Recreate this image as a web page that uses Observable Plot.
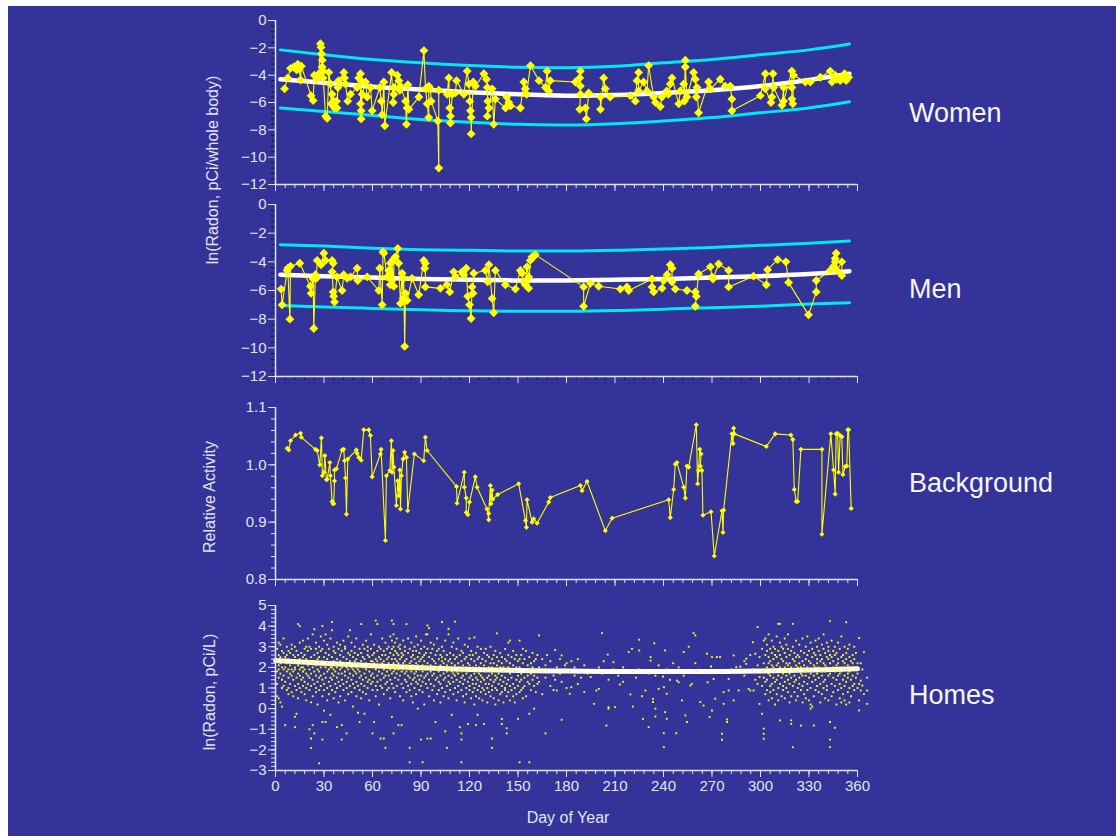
<!DOCTYPE html>
<html><head><meta charset="utf-8">
<script src="https://cdn.jsdelivr.net/npm/d3@7"></script>
<script src="https://cdn.jsdelivr.net/npm/@observablehq/plot@0.6"></script>
<style>
html,body{margin:0;padding:0;background:#fff;}
#page{position:relative;width:1116px;height:836px;background:#fff;overflow:hidden;font-family:"Liberation Sans",Arial,sans-serif;}
#bg{position:absolute;left:8px;top:6px;right:0;bottom:0;background:#333399;}
.panel{position:absolute;left:0;}
.lbl{position:absolute;color:#f6f6f6;font-size:27px;line-height:1;white-space:nowrap;}
.title{position:absolute;color:#e4e4f0;font-size:16px;line-height:1;white-space:nowrap;transform:translate(-50%,-50%);}
.ytitle{position:absolute;color:#e4e4f0;font-size:16px;line-height:1;white-space:nowrap;transform:translate(-50%,-50%) rotate(-90deg);}
</style></head><body>
<div id="page"><div id="bg"></div></div>
<script>
// ---------------- data ----------------
const panelNames = ["Women", "Men", "Background", "Homes"];
const yTitles = ["ln(Radon, pCi/whole body)", "Relative Activity", "ln(Radon, pCi/L)"];
const xTitle = "Day of Year";
const xTicks = [0, 30, 60, 90, 120, 150, 180, 210, 240, 270, 300, 330, 360];

// women: [day, ln(radon)]
const women = [[5.6,-5.0],[7.6,-4.2],[9.3,-3.5],[11.3,-3.4],[13,-3.6],[13.8,-3.2],[14.6,-3.55],[15.5,-4.35],[16,-3.35],[22,-5.5],[23.3,-5.85],[24,-4.0],[25.4,-4.3],[26.8,-3.9],[27.8,-1.7],[28.2,-1.96],[28.5,-2.45],[28.9,-2.9],[28.9,-3.4],[29.5,-3.7],[29.5,-4.2],[31,-7.0],[32,-7.15],[33,-3.8],[34,-4.65],[34.4,-6.1],[35,-5.4],[36,-5.9],[36.5,-6.4],[37.7,-5.9],[38,-6.4],[38.6,-4.9],[39,-4.4],[42.3,-3.8],[42.7,-4.2],[43.3,-4.65],[44.7,-5.9],[46.4,-5.4],[50.5,-4.9],[51.5,-4.2],[52.6,-3.9],[52.6,-6.1],[53,-4.4],[53,-6.6],[53,-7.2],[53.6,-5.4],[55.7,-4.5],[56.7,-5.6],[58.8,-4.9],[59.8,-6.6],[64.5,-4.9],[65.4,-5.9],[66,-6.9],[67,-4.5],[67.6,-7.7],[71.8,-3.8],[72.8,-6.0],[73.2,-4.9],[73.2,-5.4],[75.3,-4.0],[76.3,-4.4],[76.9,-5.1],[77.3,-4.8],[80.4,-5.9],[81,-7.6],[81.4,-6.4],[81.9,-4.7],[82.5,-6.5],[88.7,-5.6],[91.8,-2.2],[92.8,-5.0],[93.8,-6.1],[94.8,-7.1],[94.8,-4.8],[95.9,-5.0],[96.3,-5.9],[100.4,-7.35],[101,-10.8],[101,-5.1],[106.2,-5.4],[107.2,-4.2],[107.8,-6.4],[108.2,-7.0],[108.2,-7.5],[109.3,-5.4],[111.3,-5.3],[112,-4.4],[116.5,-5.4],[118.6,-3.7],[119.6,-4.65],[120.2,-5.9],[120.6,-6.6],[121,-7.1],[121,-8.3],[122.3,-4.5],[123.7,-4.8],[128.9,-3.9],[130.5,-4.3],[131,-4.9],[131.3,-5.9],[131,-7.0],[132,-6.4],[134,-5.0],[135,-7.6],[136,-5.75],[142.3,-6.4],[143,-5.6],[144.3,-6.0],[145.4,-6.25],[151.5,-6.4],[153.6,-4.5],[154.6,-5.0],[155.3,-5.4],[157.7,-3.3],[163,-4.4],[167,-4.9],[168,-3.7],[169,-5.15],[170,-4.4],[185.5,-4.5],[188.2,-4.2],[188.6,-3.7],[188.6,-4.8],[188.6,-5.4],[188.2,-6.5],[191.7,-6.4],[192.3,-7.2],[193.7,-5.3],[201,-5.6],[201,-6.5],[203,-4.2],[204,-5.0],[207,-5.6],[219.5,-5.5],[222.6,-5.9],[223.6,-4.4],[224.6,-3.8],[224.6,-5.15],[227.7,-4.5],[229.8,-5.15],[230.8,-3.3],[233.9,-5.6],[235,-6.0],[238,-6.3],[239,-5.6],[242,-5.15],[243,-5.4],[244.2,-4.65],[245.3,-4.2],[249.4,-6.1],[250.4,-5.15],[252.5,-4.65],[252.9,-5.9],[253.5,-2.9],[253.5,-3.4],[254.5,-5.6],[258.6,-3.8],[259.7,-4.3],[260.3,-5.6],[260.7,-4.9],[261.7,-6.75],[267.9,-4.5],[269,-5.0],[275.1,-4.3],[278.2,-4.8],[281.3,-4.8],[282.3,-5.75],[282.3,-6.6],[299.9,-5.5],[303,-3.9],[303,-5.0],[306.5,-6.0],[307.1,-5.6],[307.7,-3.9],[308.1,-4.9],[313.3,-6.2],[314.3,-4.9],[314.3,-5.9],[319.4,-3.7],[319.4,-4.9],[319.4,-5.75],[320,-6.1],[320.5,-4.0],[327.7,-4.5],[330.8,-4.5],[337,-4.15],[343.1,-3.7],[344.2,-4.5],[346.2,-4.0],[347,-4.3],[349.3,-4.4],[350.3,-4.15],[352,-3.9],[353,-4.4],[354.5,-4.15]];

// men: [day, ln(radon)]
const men = [[3.5,-5.9],[4.1,-7.0],[7.2,-4.6],[7.6,-4.45],[8.9,-8.0],[9.3,-4.3],[15,-4.1],[21.6,-5.7],[22,-6.2],[23.3,-5.2],[23.7,-8.65],[24.7,-4.9],[25.3,-5.15],[25.8,-3.9],[28.2,-4.2],[29.9,-3.4],[31,-3.9],[35,-3.9],[35.7,-4.1],[35,-4.7],[35.7,-6.1],[36,-6.4],[36.5,-6.8],[38,-5.05],[41.2,-6.0],[42.2,-4.9],[44.3,-5.15],[46.4,-5.05],[50.5,-4.45],[50.9,-5.3],[56.7,-5.05],[63.9,-6.0],[64.5,-4.45],[66,-7.0],[66.5,-3.3],[67,-3.4],[69,-5.05],[70,-4.6],[71,-5.6],[71,-4.1],[72,-5.3],[72,-4.0],[73.2,-5.7],[73.2,-3.8],[74.2,-3.65],[75.6,-3.07],[76.2,-4.1],[77.3,-6.9],[78.3,-4.8],[78.9,-6.55],[79.3,-5.15],[79.9,-9.9],[80.4,-6.2],[81.4,-6.7],[84.5,-5.15],[88.6,-6.3],[91.7,-3.9],[92.3,-4.45],[92.7,-4.1],[92.7,-5.75],[102,-5.85],[106,-5.6],[107.8,-6.1],[110.2,-4.7],[111.3,-5.05],[115.4,-4.7],[116.4,-4.9],[118,-4.45],[118.9,-6.4],[120,-7.0],[121,-7.95],[121.6,-5.75],[122.2,-6.2],[122.6,-4.8],[129.8,-4.6],[131.3,-5.4],[132,-4.2],[134,-6.55],[135,-7.55],[136,-4.6],[142.2,-5.6],[148.4,-5.9],[151.5,-4.6],[152.5,-4.8],[153.5,-5.4],[154.5,-5.6],[155.6,-4.35],[156.6,-5.05],[156.6,-5.85],[157.6,-3.9],[158.7,-3.65],[159.7,-3.65],[160.7,-3.5],[190.6,-5.75],[190.6,-7.1],[194.8,-5.5],[199.9,-5.7],[213.3,-5.9],[217.4,-5.75],[218.5,-6.0],[232.9,-5.2],[232.9,-5.75],[233.9,-6.1],[239.1,-5.85],[240.1,-5.3],[242.2,-4.9],[244.2,-4.2],[245.3,-4.45],[245.3,-5.4],[247.3,-5.9],[254.5,-6.0],[259.7,-6.1],[260.3,-6.4],[259.7,-7.1],[261.7,-4.85],[269,-4.35],[270,-5.05],[270.6,-5.2],[274.1,-4.15],[280.3,-4.6],[280.3,-5.75],[295.7,-5.0],[303.6,-5.6],[304.4,-4.55],[310.6,-3.85],[315.7,-4.0],[317.4,-5.45],[329.7,-7.7],[334.5,-6.1],[334.5,-5.3],[343.1,-4.6],[345.2,-4.3],[346.2,-4.0],[346.2,-3.77],[346.8,-3.4],[347.3,-4.6],[350.3,-4.0],[350.3,-4.95]];

// background: [day, relative activity]
const background = [[7.2,1.029],[8.2,1.026],[9.3,1.042],[12.4,1.052],[15.5,1.055],[16,1.048],[24.7,1.027],[25.8,1.025],[27.4,1.0],[28.4,1.047],[29,0.981],[30,0.987],[30.5,1.016],[31.5,0.974],[32,0.975],[33.6,1.004],[34,0.981],[35,0.936],[35.6,0.932],[36,0.932],[36.5,0.972],[36.5,0.991],[37.7,0.993],[41.2,1.026],[42.2,1.027],[42.7,1.007],[43.3,0.977],[43.9,0.914],[44.7,1.01],[50,1.026],[50.5,1.02],[51.5,1.013],[53,1.008],[54.6,1.061],[57.7,1.061],[58.7,1.051],[59.8,0.979],[64.9,1.019],[65.3,1.027],[68,0.868],[68.6,0.981],[70.7,0.99],[71.7,1.042],[72.1,0.987],[72.7,1.025],[73.2,0.996],[74.8,0.929],[75.6,0.972],[76.3,0.946],[76.9,0.991],[77.3,0.923],[77.9,0.981],[78.9,1.01],[79.9,1.022],[81,1.013],[81.8,0.92],[85.9,1.019],[91.7,1.007],[92.7,1.048],[93.8,1.025],[112,0.962],[112.3,0.933],[116.8,0.987],[116.8,0.961],[118,0.942],[118,0.917],[119,0.913],[120,0.935],[123.6,0.979],[124.7,0.961],[130.8,0.923],[131.9,0.904],[131.9,0.915],[132.9,0.964],[133.3,0.932],[134,0.956],[134.4,0.94],[137.4,0.948],[150.4,0.967],[154.6,0.903],[155.2,0.891],[155.6,0.939],[158.7,0.9],[159.7,0.906],[161.8,0.898],[169,0.935],[170,0.943],[188.6,0.964],[189.6,0.955],[192.7,0.971],[204,0.885],[208.2,0.907],[243.2,0.939],[244.2,0.908],[246.3,0.957],[247.3,1.001],[248.3,1.004],[252.5,0.961],[253.5,0.942],[254.5,0.998],[255.6,0.996],[260.3,1.07],[261.1,0.967],[261.7,0.99],[262.4,1.027],[263.2,1.019],[262.8,0.998],[263.8,0.99],[264.4,0.912],[269.4,0.918],[271.4,0.841],[276.2,0.92],[276.8,0.882],[277.2,0.921],[282.3,1.054],[283,1.037],[283.4,1.064],[283.8,1.054],[303.6,1.032],[309.1,1.054],[318.8,1.052],[320,1.044],[320.9,0.957],[322.1,0.936],[323,0.936],[325,1.027],[338,1.027],[338,0.879],[343.5,1.054],[345.2,0.991],[346.2,0.949],[346.8,1.054],[347.7,1.055],[348.3,0.987],[349.3,1.051],[350.3,1.049],[351,0.983],[352.4,0.997],[353.4,0.998],[354,1.061],[354.5,1.061],[356.1,0.924]];

// homes: [day, [ln(radon pCi/L) values measured that day]]
const homes = [[1,[2.4,1.8,2.9,1.2,0.6]],[2,[3.2,2.1,1.5,0.5,2.6,1.9]],[3,[2.2,0.3,1.7,3.1,2.5]],[4,[1.4,2.0,0.1,2.8,1.0]],[5,[3.4,2.3,1.6,2.7,1.1,1.9]],[6,[-0.8,2.0,1.3,2.5]],[7,[1.8,2.6,0.9,2.2,3.0]],[8,[0.7,2.4,1.5,1.9,2.8,1.0]],[9,[2.1,1.2,2.7,1.7]],[10,[2.9,1.6,0.8,2.3,1.9,3.1]],[11,[1.4,2.2,2.6,0.6,1.8]],[12,[-0.9,-0.4,1.9,2.5,1.1,3.0,2.0]],[13,[-0.25,2.3,1.5,0.9,2.8]],[14,[4.1,1.7,2.1,2.6,1.2,0.5]],[15,[4.0,2.4,1.9,3.2,1.0,1.6]],[16,[2.0,2.7,1.4,0.8,2.2]],[17,[1.8,3.3,2.5,1.1,2.0,1.5]],[18,[2.6,1.3,0.7,2.9,1.9]],[19,[1.7,2.4,3.0,1.0,2.2,0.4]],[20,[2.1,1.6,2.8,1.2,3.4]],[21,[3.0,1.9,0.9,2.3,-1.0,1.5]],[22,[-1.9,-1.45,2.5,1.7,1.1,2.9,0.3]],[23,[3.6,2.2,1.4,0.6,2.0,-0.8]],[24,[3.85,-1.2,1.8,2.6,1.2,2.3]],[25,[2.1,0.8,1.6,2.9,3.2,1.0]],[26,[1.3,2.4,0.2,1.9,2.7]],[27,[-2.65,2.2,1.5,0.9,3.0,1.8,2.5]],[28,[2.0,1.1,2.8,3.5,1.6]],[29,[4.0,-1.5,-0.65,2.3,1.4,0.6,2.9]],[30,[3.3,2.1,1.7,0.9,2.5,1.2,-0.1]],[31,[3.6,-0.65,2.0,1.5,2.7]],[32,[1.8,2.4,1.0,3.1,0.4,2.2]],[33,[2.6,1.3,1.9,2.9,0.7]],[34,[1.5,2.2,3.4,1.1,2.0,-0.3]],[35,[4.2,3.8,1.7,2.5,0.9,2.0,1.4]],[36,[2.3,1.6,2.8,0.5,1.9,3.0]],[37,[1.2,2.1,2.7,1.8,0.8]],[38,[-0.9,2.4,1.5,3.2,1.0,2.0]],[39,[2.9,1.7,0.3,2.2,1.3]],[40,[1.9,2.6,1.1,3.1,2.3,0.6]],[41,[-0.8,-1.5,2.0,1.4,2.8,1.7]],[42,[2.5,3.3,1.2,0.9,2.1]],[43,[1.6,2.2,2.9,0.4,1.8,3.0]],[44,[-1.2,2.4,1.3,2.0,1.0]],[45,[2.7,1.5,3.5,2.1,0.7,1.9]],[46,[3.8,2.3,1.1,1.7,2.6]],[47,[1.4,2.0,2.8,0.8,3.2]],[48,[2.2,1.6,0.1,2.5,1.9,1.2]],[49,[1.0,2.7,1.8,3.0,2.3]],[50,[2.4,1.3,0.6,2.0,3.4,1.7]],[51,[1.9,2.6,1.1,2.2,-0.2]],[52,[-0.65,2.1,1.5,2.9,0.9,1.8]],[53,[4.1,2.3,1.2,2.7,1.6,0.5]],[54,[2.0,3.1,1.4,0.8,2.5]],[55,[-0.25,1.7,2.4,2.9,1.1,2.0]],[56,[2.2,1.5,3.3,0.7,1.9]],[57,[1.3,2.6,2.0,1.0,2.8,3.0]],[58,[2.5,1.8,0.4,2.1,1.4]],[59,[1.6,2.3,2.9,1.2,3.6]],[60,[-1.2,2.0,1.7,2.6,0.9,2.3,1.3]],[61,[-0.65,2.7,1.5,2.2,3.1]],[62,[4.27,1.9,2.4,1.1,0.6,2.0]],[63,[4.1,2.8,1.6,2.3,1.3,0.9]],[64,[2.1,3.0,1.8,0.2,2.5]],[65,[-1.45,2.4,1.4,2.0,2.9,1.1]],[66,[1.7,2.6,3.4,1.0,2.2]],[67,[-1.45,2.3,1.5,0.7,2.8,1.9]],[68,[-1.9,2.0,2.6,1.2,3.2,1.6]],[69,[1.8,2.4,0.9,2.9,1.3]],[70,[2.2,3.0,1.6,2.5,1.0,2.0]],[71,[2.7,1.4,3.5,2.1,0.5,1.9]],[72,[4.27,-0.4,3.3,2.4,1.7,2.0,2.9,1.2]],[73,[4.1,-1.2,3.0,2.6,1.8,2.2,1.0,3.6]],[74,[2.8,2.0,1.5,3.2,0.8,2.4,1.9]],[75,[3.4,2.3,1.7,2.7,1.1,2.0]],[76,[-0.8,2.6,1.9,3.0,1.4,2.2]],[77,[2.1,1.6,2.9,0.6,2.4,3.1]],[78,[-0.8,2.5,1.8,1.2,2.7]],[79,[1.9,3.3,2.2,1.0,2.6,0.4]],[80,[2.0,1.4,2.8,1.7,3.0,2.3]],[81,[4.1,2.4,1.3,0.8,2.1,1.8]],[82,[1.6,2.7,2.0,3.4,1.1]],[83,[-1.9,-2.6,2.2,1.5,2.9,0.9,1.9]],[84,[2.5,1.8,1.2,2.3,3.2,0.6]],[85,[1.9,2.6,1.4,2.1,0.3,2.8]],[86,[3.0,1.7,2.4,1.0,2.0,1.5]],[87,[2.2,1.3,2.8,3.5,0.7,1.8]],[88,[1.6,2.5,0.0,2.1,3.1,1.2]],[89,[2.7,1.9,1.4,2.3,0.9]],[90,[-1.5,2.0,2.9,1.6,3.3,1.1,2.4]],[91,[-2.6,1.8,2.5,0.8,2.1,1.3]],[92,[2.3,1.5,3.0,1.9,0.2,2.6]],[93,[1.2,2.7,2.0,1.6,3.6]],[94,[3.6,4.03,-1.45,2.2,1.7,2.9,1.0]],[95,[2.5,1.4,3.9,0.6,2.0]],[96,[-1.45,2.1,1.8,2.7,1.2,3.2]],[97,[1.6,2.4,0.9,2.0,2.9]],[98,[2.3,1.1,3.1,1.7,0.4]],[99,[-0.65,1.9,2.6,1.4,2.2]],[100,[2.0,1.5,2.8,0.7,1.9,3.4]],[101,[1.3,2.4,1.8,2.9,0.9]],[102,[2.6,1.6,0.3,2.1,1.2]],[103,[4.2,1.9,2.5,1.0,2.3,3.0]],[104,[1.4,2.2,0.6,2.8,1.7]],[105,[-1.1,2.0,1.5,3.3,2.4,0.8]],[106,[-1.9,1.8,2.6,1.1,2.1]],[107,[3.87,3.6,2.3,1.6,0.5,2.0,1.3]],[108,[1.9,2.7,1.2,0.9,2.4]],[109,[2.2,1.5,3.0,1.8,-0.3]],[110,[1.3,2.0,2.6,0.7,1.7,3.2]],[111,[4.22,1.6,2.4,1.0,2.1]],[112,[2.5,1.8,0.4,1.4,2.9]],[113,[1.1,2.2,1.7,3.4,0.8]],[114,[-0.9,1.9,2.6,1.3,2.0]],[115,[-1.2,-1.5,-2.6,2.3,1.5,0.9,2.8,1.8]],[116,[1.6,2.1,0.6,2.7,1.2]],[117,[2.4,1.4,3.1,1.9,0.3]],[118,[1.0,2.0,1.7,2.5,0.7]],[119,[-0.75,2.2,1.3,3.0,1.8]],[120,[2.6,1.5,0.9,2.1,1.1,3.4]],[121,[1.9,2.4,0.5,1.6,2.8]],[122,[1.2,2.0,1.4,0.8,2.6]],[123,[3.45,1.7,2.3,1.0,0.2]],[124,[-0.8,2.1,1.5,2.7,1.2,0.6]],[125,[-0.3,1.8,2.4,0.9,1.4,3.0]],[126,[2.0,1.1,0.5,2.5,1.7]],[127,[1.6,2.2,0.8,1.3,2.9]],[128,[2.4,1.0,1.9,0.4,1.5]],[129,[-0.75,2.1,1.4,2.7,0.9]],[130,[1.8,0.7,2.3,1.2,2.9]],[131,[2.6,1.5,0.3,1.9,1.0]],[132,[1.2,2.0,0.8,2.5,1.6]],[133,[2.2,1.4,3.0,0.6,1.8]],[134,[-1.45,-1.9,1.7,2.4,1.1,0.9,2.0]],[135,[1.9,2.6,1.3,0.5,2.2]],[136,[1.0,1.6,2.8,0.2,1.4]],[137,[3.65,2.1,1.5,0.9,2.5]],[138,[1.7,2.3,1.2,0.4,1.9]],[139,[2.0,1.4,0.7,2.7]],[140,[-0.75,-0.5,1.6,2.2,1.1,0.8,2.5]],[141,[1.3,2.0,0.3,1.8]],[142,[2.4,1.5,0.9,2.9,1.0]],[143,[-1.2,-0.95,1.9,1.2,2.3,0.6]],[144,[3.2,2.0,1.4,0.8,2.6]],[145,[3.3,1.7,2.2,1.1,0.4]],[146,[1.5,2.5,0.9,1.9]],[147,[2.1,1.2,2.8,0.6]],[148,[1.8,0.3,2.4,1.0]],[149,[2.6,1.4,0.7,2.0]],[150,[1.1,2.3,1.6,-0.5]],[151,[3.3,-2.6,2.0,1.3,0.8,2.4]],[152,[1.7,2.6,0.9,1.4]],[153,[2.2,1.0,2.9,0.5]],[154,[1.5,2.4,1.1]],[155,[2.8,1.8,0.6]],[156,[1.3,2.1,1.6]],[157,[-2.6,-0.25,2.5,1.2,1.9]],[158,[1.7,2.2,0.9]],[159,[2.0,1.4,2.7]],[160,[0.0,1.6,2.3,1.1]],[161,[2.4,1.9,0.8]],[162,[1.5,2.6,1.2]],[163,[3.55,2.0,1.3]],[165,[1.8,2.4,0.7]],[167,[-1.2,2.1,1.5]],[168,[1.9,2.6]],[170,[2.3,1.1]],[172,[1.6,0.9]],[173,[2.85,1.4]],[174,[0.88,2.0]],[176,[1.7,2.4]],[177,[2.58,-0.54,1.3]],[179,[1.9,2.1]],[180,[2.2,1.0]],[182,[0.72,1.8]],[183,[1.04,2.3]],[185,[1.6,2.0]],[187,[2.4,1.2]],[189,[1.5]],[191,[2.1,0.8]],[193,[1.7]],[195,[1.53]],[197,[0.23]],[198.5,[0.88]],[200,[0.96,2.0]],[202,[3.66,1.7]],[203,[2.3]],[204.7,[-0.82]],[205.5,[2.62]],[206,[0.07,0.0,1.4]],[209,[2.25,1.9]],[210,[0.07]],[212,[1.6]],[213,[1.17]],[215,[2.0,1.3]],[218.5,[2.74]],[219.5,[0.69]],[220.5,[2.9]],[221,[0.1,1.8]],[223,[1.5]],[225,[3.34,2.82,1.9]],[226.7,[0.6]],[227.3,[-0.5]],[228.8,[0.88]],[230.8,[-0.9,1.7]],[232,[2.5,2.33]],[233.5,[0.32,0.47]],[234.3,[3.17]],[235,[0.0,-0.38,1.6]],[237,[0.96,2.1]],[239.7,[1.56]],[240.2,[1.04,-1.19,-1.87]],[241,[2.82,-0.17]],[242,[-0.49,0.72,1.9]],[244,[1.4]],[246,[2.2]],[247.9,[-1.19]],[248.3,[1.36]],[249.4,[1.28,2.0]],[251.4,[0.4]],[252.5,[2.74,1.6]],[253.5,[-0.33]],[254.5,[-0.65]],[255.6,[3.0]],[256.6,[1.12]],[257.6,[1.2]],[258.6,[3.66]],[259.7,[3.55,2.2]],[261,[1.8]],[262.8,[0.32]],[264.8,[0.15]],[266.9,[2.66]],[267.3,[1.28]],[268.5,[-0.41]],[269.4,[2.04]],[270,[-0.09,2.5]],[271,[1.44]],[272,[0.48]],[273,[2.5]],[275,[2.5,1.8]],[276.2,[-1.22,-1.51]],[277.2,[0.23,0.8]],[279.3,[-0.65,-0.52]],[280.3,[0.88,1.44]],[282,[1.9]],[283.4,[0.4,2.58]],[285,[2.01]],[286.5,[0.88]],[287.5,[2.04]],[288.5,[1.88]],[290,[2.3,1.6]],[291.2,[2.42,2.17]],[292.6,[0.96]],[293.7,[0.88,2.6]],[295.3,[3.22,1.9]],[295.7,[0.88]],[296.8,[2.66,1.4]],[298.2,[3.95,2.1,1.2]],[299.4,[0.23,1.53,2.5]],[301,[-0.25,1.8,2.9,1.1]],[302,[-0.97,-1.22,-1.46,2.2,1.5,3.3]],[303,[2.6,1.9,0.7,3.4,1.3]],[304,[2.0,1.4,2.8,0.9,3.1]],[305,[1.7,2.5,0.4,2.2,3.6]],[306,[2.3,1.1,2.9,1.6,0.8]],[307,[1.9,2.7,3.3,1.2,0.5,2.1]],[308,[2.4,1.5,0.9,2.0,3.0]],[309,[1.3,2.6,1.8,0.2,2.9]],[310,[2.1,3.5,1.4,0.7,2.5]],[311,[4.11,2.2,1.6,1.0,2.8,0.4]],[312,[4.11,-0.57,2.0,1.2,2.6,3.2]],[313,[1.8,2.4,0.6,1.5,3.0]],[314,[2.3,1.1,2.9,1.7,0.9]],[315,[2.7,2.0,1.3,3.4,0.5,1.9]],[316,[1.6,2.5,3.1,1.0,2.2]],[317,[2.9,1.4,0.8,2.1,1.8,3.6]],[318,[2.2,1.7,0.3,2.6,1.2]],[319,[-0.74,-0.57,2.0,1.5,2.8,0.6]],[320,[4.11,-1.87,2.4,1.9,1.1,3.0]],[321,[1.3,2.3,0.8,2.7,1.6]],[322,[2.1,3.3,1.4,0.4,2.5]],[323,[1.8,2.6,1.0,2.0,0.6]],[324,[2.5,1.5,3.1,1.2,2.2]],[325,[-0.82,2.0,1.7,2.8,0.9]],[326,[2.3,1.1,3.4,1.6,0.3]],[327,[1.9,2.7,1.3,2.1,0.7]],[328,[2.4,1.6,3.0,0.5,1.8]],[329,[2.0,1.2,2.6,0.9,3.5]],[330,[1.5,2.3,0.4,1.9,2.8]],[331,[2.2,1.0,3.2,1.7,0.0,0.2]],[332,[1.8,2.5,0.1,1.3,2.9]],[333,[-0.82,2.1,1.6,0.6,2.7]],[334,[2.6,1.4,3.3,0.9,2.0]],[335,[1.7,2.4,1.1,3.0,2.2]],[336,[2.0,0.8,1.5,2.8,3.4]],[337,[1.9,2.6,1.2,0.3,2.3]],[338,[2.4,1.6,3.1,0.7,1.8]],[339,[1.3,2.2,2.9,1.0,3.6]],[340,[2.7,1.8,0.5,2.1,1.4]],[341,[2.0,3.2,1.1,2.5,0.9]],[342,[1.6,2.4,0.4,2.8,3.0]],[343,[4.24,-1.87,-1.5,-0.65,2.2,1.7,2.6]],[344,[1.9,2.5,1.2,3.3,0.6]],[345,[2.3,1.5,2.8,0.8,2.0]],[346,[-0.93,2.6,1.8,3.0,1.1]],[347,[2.1,1.4,2.7,0.2,1.9]],[348,[1.6,2.4,0.9,3.2,2.2]],[349,[2.0,1.2,2.9,0.5,1.7]],[350,[2.5,1.8,3.5,1.0,0.3]],[351,[1.4,2.3,0.7,2.6,2.0]],[352,[2.2,1.6,3.0,0.4,1.1]],[353,[4.19,1.9,2.4,1.3,0.2,2.7]],[354,[2.1,1.5,0.8,2.9,1.7]],[355,[1.8,2.5,1.0,3.1,0.3]],[356,[2.3,1.4,2.0,0.6]],[357,[1.6,2.6,1.1,2.2]],[358,[2.4,1.2,0.9,3.0]],[359,[1.9,2.7,1.5]],[360,[2.2,1.0,1.7]],[361,[3.42,1.2,0.4,-0.09]],[362,[0.88,1.36,2.2]],[363,[1.12,1.9]],[364,[2.74,0.7]],[366,[0.23,0.88,1.5]]];

// fitted curves
const fitDays = [3, 30, 60, 90, 120, 150, 180, 210, 240, 270, 300, 330, 355];
const womenFit   = [-4.3, -4.55, -4.85, -5.05, -5.25, -5.4, -5.5, -5.45, -5.3, -5.1, -4.8, -4.35, -3.9];
const womenUpper = [-2.15, -2.5, -2.85, -3.1, -3.3, -3.42, -3.45, -3.35, -3.1, -2.85, -2.5, -2.15, -1.72];
const womenLower = [-6.4, -6.65, -6.95, -7.25, -7.45, -7.6, -7.65, -7.55, -7.35, -7.1, -6.75, -6.4, -5.95];
const menFit   = [-4.9, -5.0, -5.1, -5.2, -5.25, -5.3, -5.3, -5.25, -5.2, -5.1, -5.0, -4.85, -4.65];
const menUpper = [-2.8, -2.9, -3.05, -3.15, -3.2, -3.25, -3.25, -3.2, -3.1, -3.0, -2.85, -2.7, -2.55];
const menLower = [-7.05, -7.15, -7.25, -7.35, -7.42, -7.45, -7.45, -7.4, -7.3, -7.2, -7.1, -6.95, -6.85];
const homeFitDays = [0, 30, 60, 90, 120, 150, 180, 210, 240, 270, 300, 330, 360];
const homeFit = [2.33, 2.2, 2.08, 1.98, 1.9, 1.85, 1.82, 1.8, 1.8, 1.8, 1.82, 1.87, 1.93];

// ---------------- drawing ----------------
const W = 1116, ML = 275, MR = 259;
const AX = "#e4e4f0", DARK = "#15153a", YEL = "#ffff00", CYAN = "#00e8f0";
const page = document.getElementById("page");
const pair = (days, vals) => days.map((d, i) => ({day: d, v: vals[i]}));
const rows = a => a.map(([day, v]) => ({day, v}));
const homeRows = homes.flatMap(([day, vs]) => vs.map(v => ({day, v})));

function panel({top, mt, bottom, mb, ydomain, major, minor, fmt, xLabels, minorYColor = AX, minorXColor = AX, marks}) {
  const height = bottom - top + mb;
  const svg = Plot.plot({
    width: W, height, marginLeft: ML, marginRight: MR, marginTop: mt, marginBottom: mb,
    style: {background: "transparent", color: AX, fontFamily: "'Liberation Sans', Arial, sans-serif", fontSize: "15px", overflow: "visible"},
    x: {domain: [0, 360]},
    y: {domain: ydomain},
    marks: [
      ...marks,
      Plot.axisY({ticks: minor, tickSize: 4, stroke: minorYColor, fill: "none", label: null}),
      Plot.axisX({ticks: d3.range(0, 361, 6), tickSize: 4, stroke: minorXColor, fill: "none", label: null}),
      Plot.ruleX([0], {y1: ydomain[0], y2: ydomain[1], stroke: AX, strokeWidth: 1.5}),
      Plot.ruleY([ydomain[0]], {x1: 0, x2: 360, stroke: AX, strokeWidth: 1.5}),
      Plot.axisY({ticks: major, tickSize: 7, tickPadding: 2, tickFormat: fmt, label: null, fontSize: 15}),
      xLabels
        ? Plot.axisX({ticks: xTicks, tickSize: 7, tickPadding: 3, tickFormat: d3.format("d"), label: null, fontSize: 15})
        : Plot.axisX({ticks: xTicks, tickSize: 7, fill: "none", label: null})
    ]
  });
  svg.classList.add("panel");
  svg.style.top = top + "px";
  page.appendChild(svg);
}

function fitMarks(upper, fit, lower) {
  return [
    Plot.line(pair(fitDays, upper), {x: "day", y: "v", stroke: CYAN, strokeWidth: 3, curve: "natural"}),
    Plot.line(pair(fitDays, lower), {x: "day", y: "v", stroke: CYAN, strokeWidth: 3, curve: "natural"}),
    Plot.line(pair(fitDays, fit), {x: "day", y: "v", stroke: "#ffffff", strokeWidth: 4.5, curve: "natural"})
  ];
}

const lnMajor = d3.range(-12, 0.01, 2), lnMinor = d3.range(-12, 0.01, 0.4);

// Women
panel({top: 6, mt: 14, bottom: 184, mb: 12, ydomain: [-12, 0], major: lnMajor, minor: lnMinor, fmt: d3.format("d"), minorYColor: DARK,
  marks: [...fitMarks(womenUpper, womenFit, womenLower),
    Plot.line(rows(women), {x: "day", y: "v", stroke: YEL, strokeWidth: 1.1}),
    Plot.dot(rows(women), {x: "day", y: "v", symbol: "diamond2", r: 4, fill: YEL, stroke: "none"})]});

// Men
panel({top: 196, mt: 8, bottom: 376, mb: 12, ydomain: [-12, 0], major: lnMajor, minor: lnMinor, fmt: d3.format("d"), minorYColor: DARK, minorXColor: DARK,
  marks: [...fitMarks(menUpper, menFit, menLower),
    Plot.line(rows(men), {x: "day", y: "v", stroke: YEL, strokeWidth: 1.1}),
    Plot.dot(rows(men), {x: "day", y: "v", symbol: "diamond2", r: 4, fill: YEL, stroke: "none"})]});

// Background
panel({top: 395, mt: 12, bottom: 579, mb: 12, ydomain: [0.8, 1.1], major: [0.8, 0.9, 1.0, 1.1], minor: d3.range(0.8, 1.1001, 0.02), fmt: d3.format(".1f"),
  marks: [
    Plot.line(rows(background), {x: "day", y: "v", stroke: YEL, strokeWidth: 1.1}),
    Plot.dot(rows(background), {x: "day", y: "v", symbol: "diamond2", r: 2.3, fill: YEL, stroke: "none"})]});

// Homes
panel({top: 592, mt: 13, bottom: 770, mb: 60, ydomain: [-3, 5], major: d3.range(-3, 5.01, 1), minor: d3.range(-3, 5.01, 0.2), fmt: d3.format("d"), xLabels: true,
  marks: [
    Plot.line(pair(homeFitDays, homeFit), {x: "day", y: "v", stroke: "#ffffff", strokeWidth: 5, curve: "natural"}),
    Plot.dot(homeRows, {x: "day", y: "v", symbol: "square", r: 1.05, fill: YEL, stroke: "none"})]});

// text labels
function addDiv(cls, text, left, top) {
  const d = document.createElement("div");
  d.className = cls; d.textContent = text;
  d.style.left = left + "px"; d.style.top = top + "px";
  page.appendChild(d);
}
const labelTops = [100, 276, 470, 682];
panelNames.forEach((n, i) => addDiv("lbl", n, 909, labelTops[i]));
addDiv("ytitle", yTitles[0], 213, 170);
addDiv("ytitle", yTitles[1], 210, 497);
addDiv("ytitle", yTitles[2], 210, 692);
addDiv("title", xTitle, 568, 818);
</script>
</body></html>
